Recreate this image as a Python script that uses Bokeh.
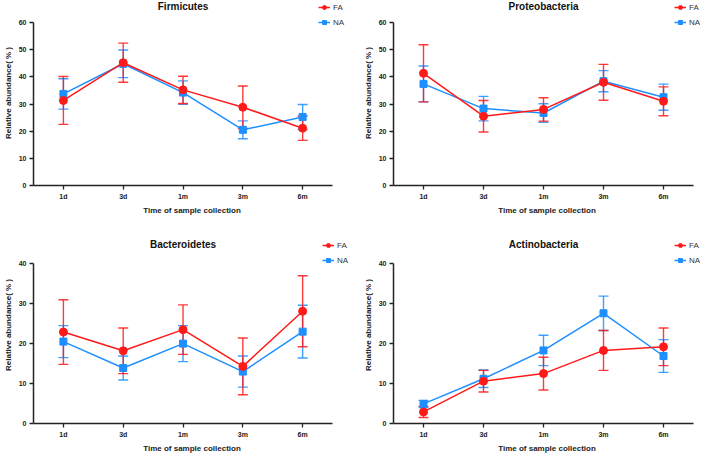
from bokeh.plotting import figure
from bokeh.models import (Range1d, FixedTicker, Legend, LegendItem, Label,
                          Whisker, ColumnDataSource, TeeHead)
from bokeh.layouts import column, row
from bokeh.embed import file_html
from bokeh.resources import INLINE

times = ["1d", "3d", "1m", "3m", "6m"]

fir_fa = [31.3, 45.2, 35.2, 28.8, 21.1]
fir_fa_sd = [8.8, 7.2, 5.0, 7.8, 4.5]
fir_na = [33.7, 44.8, 34.2, 20.5, 25.2]
fir_na_sd = [5.6, 5.1, 4.3, 3.3, 4.6]

pro_fa = [41.3, 25.5, 28.0, 38.0, 31.0]
pro_fa_sd = [10.5, 5.8, 4.3, 6.6, 5.3]
pro_na = [37.4, 28.3, 26.7, 38.4, 32.5]
pro_na_sd = [6.6, 4.5, 3.4, 3.9, 4.8]

bac_fa = [22.9, 18.2, 23.5, 14.3, 28.1]
bac_fa_sd = [8.1, 5.7, 6.2, 7.1, 8.9]
bac_na = [20.5, 13.9, 20.0, 13.0, 23.0]
bac_na_sd = [4.0, 3.0, 4.5, 3.9, 6.6]

act_fa = [2.9, 10.6, 12.5, 18.3, 19.2]
act_fa_sd = [1.4, 2.7, 4.1, 5.0, 4.7]
act_na = [4.9, 11.2, 18.3, 27.6, 16.9]
act_na_sd = [0.9, 2.2, 3.8, 4.3, 4.1]

RED = "#FF1A1A"
BLUE = "#1E8FFF"
FONT = "Liberation Sans"
AX = "#222222"

N = len(times)
POS = list(range(N))
AXIS_W = 300      # pixel width of the drawn x axis (5 categories)
AXIS_H = 163      # pixel height of the drawn y axis


def make_panel(title, fa, fa_sd, na, na_sd, ymax, ystep, width, height,
               border_left, frame_h, extra_right, title_y, leg_xy):
    unit = AXIS_W / N
    x_end = N - 0.5 + extra_right / unit
    y_end = ymax * frame_h / AXIS_H
    p = figure(x_range=Range1d(-0.5, x_end), y_range=Range1d(0, y_end),
               width=width, height=height,
               min_border_left=border_left, min_border_right=0, min_border_top=0,
               min_border_bottom=height - frame_h, output_backend="svg",
               toolbar_location=None)
    p.outline_line_color = None
    p.xgrid.visible = False
    p.ygrid.visible = False

    for ax in (p.xaxis[0], p.yaxis[0]):
        ax.axis_line_color = AX
        ax.axis_line_width = 1.5
        ax.major_tick_line_color = AX
        ax.major_tick_line_width = 1.3
        ax.major_tick_out = 4
        ax.major_tick_in = 0
        ax.minor_tick_line_color = None
        ax.major_label_text_font = FONT
        ax.major_label_text_font_size = "7px"
        ax.major_label_text_font_style = "bold"
        ax.major_label_text_color = "#222222"
        ax.major_label_standoff = 3
        ax.axis_label_text_font = FONT
        ax.axis_label_text_font_size = "8px"
        ax.axis_label_text_font_style = "bold"
        ax.axis_label_text_color = "#222222"
        ax.axis_label_standoff = 3
    p.yaxis.ticker = FixedTicker(ticks=list(range(0, ymax + 1, ystep)))
    p.yaxis.bounds = (0, ymax)
    p.xaxis.ticker = FixedTicker(ticks=POS)
    p.xaxis.major_label_overrides = {i: t for i, t in zip(POS, times)}
    p.xaxis.bounds = (-0.5, N - 0.5)
    p.xaxis.axis_label = "Time of sample collection"
    p.yaxis.axis_label = "Relative abundance( % )"

    p.add_layout(Label(x=(N - 1) / 2, y=title_y, x_units="data", y_units="screen",
                       text=title, text_align="center", text_baseline="middle",
                       text_font=FONT, text_font_size="10px", text_font_style="bold",
                       text_color="#111111"))

    items = []
    for vals, sds, color, marker, size, label in (
            (na, na_sd, BLUE, "square", 7, "NA"),
            (fa, fa_sd, RED, "circle", 8, "FA")):
        src = ColumnDataSource(dict(
            x=POS, y=vals,
            upper=[v + s for v, s in zip(vals, sds)],
            lower=[v - s for v, s in zip(vals, sds)]))
        wk = Whisker(source=src, base="x", upper="upper", lower="lower",
                     dimension="height", line_color=color, line_width=1.4,
                     line_alpha=0.85,
                     upper_head=TeeHead(size=10, line_color=color, line_width=1.4,
                                        line_alpha=0.85),
                     lower_head=TeeHead(size=10, line_color=color, line_width=1.4,
                                        line_alpha=0.85))
        p.add_layout(wk)
        ln = p.line("x", "y", source=src, line_color=color, line_width=1.5)
        sc = p.scatter("x", "y", source=src, marker=marker, size=size,
                       fill_color=color, line_color=color)
        items.append(LegendItem(label=label, renderers=[ln, sc]))
    items = items[::-1]
    leg = Legend(items=items, location=leg_xy, orientation="vertical",
                 glyph_width=12, glyph_height=10, spacing=5, padding=0, margin=0,
                 label_standoff=3, label_text_font=FONT, label_text_font_size="8px",
                 label_text_color="#333333", background_fill_alpha=0,
                 border_line_alpha=0, label_height=10)
    p.add_layout(leg)
    return p


# top row: frame 0..185 px, axis top at 22 px; bottom row: frame 0..201 px
p1 = make_panel("Firmicutes", fir_fa, fir_fa_sd, fir_na, fir_na_sd, 60, 10,
                350, 226, 32, 185, 18, 179, (285, 158))
p2 = make_panel("Proteobacteria", pro_fa, pro_fa_sd, pro_na, pro_na_sd, 60, 10,
                350, 226, 43, 185, 7, 179, (281, 158))
p3 = make_panel("Bacteroidetes", bac_fa, bac_fa_sd, bac_na, bac_na_sd, 40, 10,
                350, 229, 32, 201, 18, 179, (289, 158))
p4 = make_panel("Actinobacteria", act_fa, act_fa_sd, act_na, act_na_sd, 40, 10,
                350, 229, 43, 201, 7, 179, (281, 158))

layout = column(row(p1, p2), row(p3, p4))
open("out.html", "w").write(file_html(layout, INLINE))
